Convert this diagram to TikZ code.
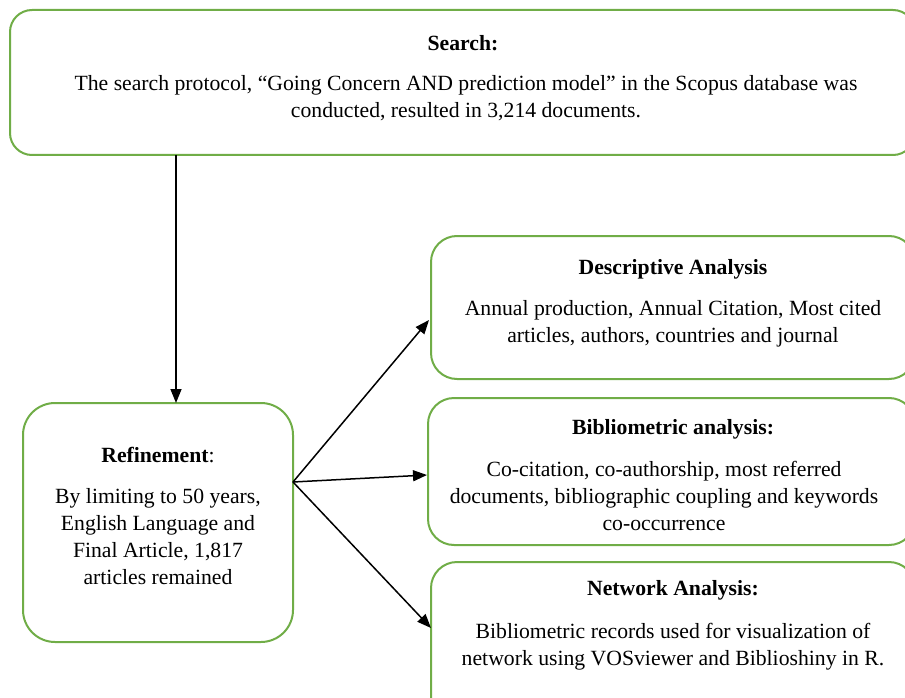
\documentclass[tikz,border=0pt]{standalone}
\usepackage{fontspec}
\setmainfont{Liberation Serif}
\usetikzlibrary{arrows.meta}
\definecolor{boxgreen}{HTML}{70AD47}
\tikzset{
  box/.style={draw=boxgreen, line width=2pt, rounded corners=22pt, fill=white, inner sep=0pt},
  txt/.style={align=center, inner sep=0pt, font=\fontsize{21.7}{27}\selectfont},
  ttl/.style={inner sep=0pt, font=\fontsize{21.7}{27}\selectfont\bfseries},
  arr/.style={-{Triangle[length=14pt,width=11pt]}, line width=1.5pt, black}
}
\begin{document}
\begin{tikzpicture}[x=1pt,y=-1pt]
\useasboundingbox (0,0) rectangle (905,698);
\clip (0,0) rectangle (905,698);
% boxes
\draw[box] (10,10) rectangle (915,155);
\draw[box, rounded corners=32pt] (23,403) rectangle (293,642);
\draw[box, rounded corners=26pt] (431,236) rectangle (915,379);
\draw[box, rounded corners=26pt] (428,398) rectangle (915,545);
\draw[box, rounded corners=26pt] (431,562) rectangle (915,730);
% texts
\node[ttl] (searcht) at (463,43) {Search:};
\node[txt] (searchb) at (466,98) {The search protocol, “Going Concern AND prediction model” in the Scopus database was\\conducted, resulted in 3,214 documents.};
\node[txt] (reft) at (158,455) {\textbf{Refinement}:};
\node[txt] (refb) at (158,537) {By limiting to 50 years,\\English Language and\\Final Article, 1,817\\articles remained};
\node[ttl] (desct) at (673,269) {Descriptive Analysis};
\node[txt] (descb) at (673,324) {Annual production, Annual Citation, Most cited\\articles, authors, countries and journal};
\node[ttl] (bibt) at (673,429) {Bibliometric analysis:};
\node[txt] (bibb) at (664,496) {Co-citation, co-authorship, most referred\\documents, bibliographic coupling and keywords\\co-occurrence};
\node[ttl] (nett) at (673,590) {Network Analysis:};
\node[txt] (netb) at (673,647) {Bibliometric records used for visualization of\\network using VOSviewer and Biblioshiny in R.};
% connectors
\coordinate (top) at (176,155);
\coordinate (refin) at (176,403);
\coordinate (fork) at (293,482);
\coordinate (descin) at (429,320);
\coordinate (bibin) at (427,475);
\coordinate (netin) at (431,628);
\draw[arr] (top) -- (refin);
\draw[arr] (fork) -- (descin);
\draw[arr] (fork) -- (bibin);
\draw[arr] (fork) -- (netin);
\end{tikzpicture}
\end{document}
